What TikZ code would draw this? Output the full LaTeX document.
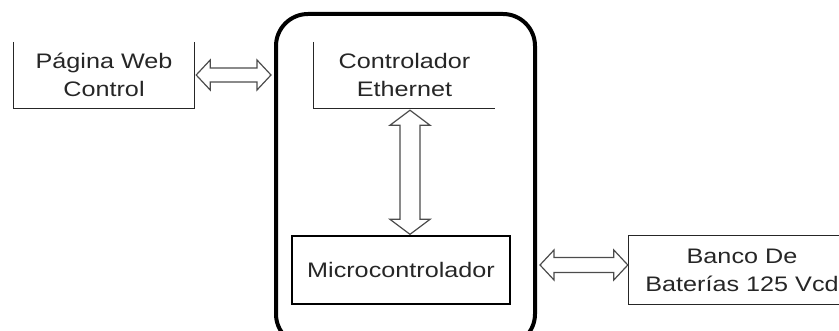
\documentclass[tikz,border=0pt]{standalone}
\usepackage{fontspec}
\setmainfont{Liberation Sans}
\usetikzlibrary{calc}
\newcommand{\widetxt}[1]{\scalebox{1.2}[1.0]{#1}}
\newcommand{\harrow}[4]{% left, right, shaft half, head half
  \draw[arr] let \p1=(#1), \p2=(#2) in
    (\x1,\y1) -- (\x1+14pt,\y1+#4) -- (\x1+14pt,\y1+#3) -- (\x2-14pt,\y1+#3) -- (\x2-14pt,\y1+#4)
    -- (\x2,\y1) -- (\x2-14pt,\y1-#4) -- (\x2-14pt,\y1-#3) -- (\x1+14pt,\y1-#3) -- (\x1+14pt,\y1-#4) -- cycle;}
\newcommand{\varrow}[4]{% top, bottom, shaft half, head half
  \draw[arr] let \p1=(#1), \p2=(#2) in
    (\x1,\y1) -- (\x1-#4,\y1-15pt) -- (\x1-#3,\y1-15pt) -- (\x1-#3,\y2+15pt) -- (\x1-#4,\y2+15pt)
    -- (\x1,\y2) -- (\x1+#4,\y2+15pt) -- (\x1+#3,\y2+15pt) -- (\x1+#3,\y1-15pt) -- (\x1+#4,\y1-15pt) -- cycle;}
\tikzset{
  box/.style={inner sep=0pt, align=center, text=black!85,
    font=\fontsize{21}{28}\selectfont},
  edge/.style={line width=1.3pt, black!85},
  arr/.style={line width=1.2pt, black!70, line join=miter},
}
\begin{document}
\begin{tikzpicture}[x=1pt,y=-1pt]
\useasboundingbox (0,0) rectangle (839,331);
\clip (0,0) rectangle (839,331);
% big controller enclosure
\node[draw, line width=4pt, rounded corners=32pt, minimum width=259pt, minimum height=332pt, inner sep=0pt] (ctrl) at (405.5,180) {};
% boxes
\node[box, minimum width=180pt, minimum height=66pt] (web) at (104,75) {\widetxt{Página Web}\\\widetxt{Control}};
\draw[edge] (web.north west) -- (web.south west) -- (web.south east) -- (web.north east);
\node[box, minimum width=181pt, minimum height=66pt] (eth) at (404.5,75) {\widetxt{Controlador}\\\widetxt{Ethernet}};
\draw[edge] (eth.north west) -- (eth.south west) -- (eth.south east);
\node[box, draw, line width=1.3pt, minimum width=218pt, minimum height=68pt] (micro) at (401,270) {\widetxt{Microcontrolador}};
\node[box, minimum width=226pt, minimum height=68pt] (banco) at (742,270) {\widetxt{Banco De}\\\widetxt{Baterías 125 Vcd}};
\draw[edge] (banco.north east) -- (banco.north west) -- (banco.south west) -- (banco.south east);
% connectors
\coordinate (a1) at ($(web.east)+(2,0)$);
\coordinate (a2) at ($(ctrl.west |- web.east)+(-3,0)$);
\harrow{a1}{a2}{7pt}{15pt}
\coordinate (b1) at ($(eth.south)+(5.5,2)$);
\coordinate (b2) at ($(micro.north)+(9,-1)$);
\varrow{b1}{b2}{10pt}{20pt}
\coordinate (c1) at ($(ctrl.east |- banco.west)+(3,-5)$);
\coordinate (c2) at ($(banco.west)+(-1,-5)$);
\harrow{c1}{c2}{7.5pt}{15pt}
\end{tikzpicture}
\end{document}
